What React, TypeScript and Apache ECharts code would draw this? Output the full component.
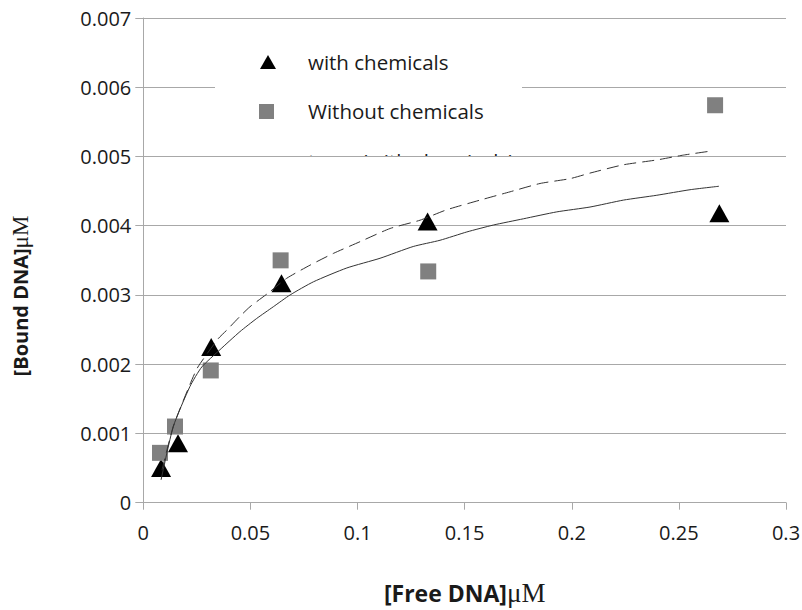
import React, { useEffect, useRef } from "react";
import * as echarts from "echarts";

// Measured points
const freeWith = [0.0083, 0.0162, 0.0317, 0.0645, 0.1327, 0.2689];
const boundWith = [0.0005, 0.00086, 0.00225, 0.00317, 0.00406, 0.00418];
const freeWithout = [0.0078, 0.0148, 0.0315, 0.0641, 0.133, 0.2669];
const boundWithout = [0.00072, 0.0011, 0.00191, 0.0035, 0.00334, 0.00574];

// Fitted curves
const fitWithX = [0.0083, 0.014, 0.0218, 0.0273, 0.0358, 0.0451, 0.0529, 0.0607, 0.0685, 0.0794, 0.095, 0.1105, 0.126, 0.1385, 0.151, 0.1634, 0.1774, 0.193, 0.2085, 0.2241, 0.2397, 0.2552, 0.2687];
const fitWithY = [0.00033, 0.0011, 0.00168, 0.00196, 0.00221, 0.00247, 0.00266, 0.00283, 0.003, 0.00319, 0.00339, 0.00353, 0.0037, 0.00379, 0.00391, 0.00401, 0.0041, 0.0042, 0.00427, 0.00437, 0.00444, 0.00452, 0.00457];
const fitWithoutX = [0.0087, 0.014, 0.0218, 0.0255, 0.035, 0.0389, 0.0451, 0.0498, 0.0584, 0.0669, 0.0778, 0.0887, 0.1012, 0.1152, 0.1292, 0.1416, 0.1572, 0.1712, 0.1852, 0.1992, 0.2085, 0.2241, 0.2397, 0.2521, 0.2654];
const fitWithoutY = [0.00047, 0.0011, 0.00171, 0.00196, 0.00237, 0.00249, 0.00269, 0.00283, 0.00303, 0.00324, 0.00343, 0.0036, 0.00377, 0.00396, 0.00408, 0.00423, 0.00437, 0.00449, 0.00461, 0.00468, 0.00476, 0.00488, 0.00495, 0.00502, 0.00508];

const legendNames = ["with chemicals", "Without chemicals", "trace (with chemicals)"];
const xTitle = "[Free DNA]";
const yTitle = "[Bound DNA]";
const unit = "μM";

const zip = (xs: number[], ys: number[]) => xs.map((x, i) => [x, ys[i]]);

export default function App() {
  const ref = useRef<HTMLDivElement>(null);
  useEffect(() => {
    document.body.style.margin = "0";
    const chart = echarts.init(ref.current!, undefined, { renderer: "svg" });
    const font = "Open Sans";
    const gridColor = "#a8a8a8";
    chart.setOption({
      animation: false,
      backgroundColor: "#ffffff",
      textStyle: { fontFamily: font },
      grid: { left: 143.3, right: 16, top: 18, bottom: 107.3, containLabel: false, outerBoundsMode: "none" },
      xAxis: {
        type: "value",
        min: 0,
        max: 0.3,
        interval: 0.05,
        axisLine: { show: true, lineStyle: { color: gridColor, width: 1 } },
        axisTick: { show: true, length: 7, lineStyle: { color: gridColor } },
        splitLine: { show: false },
        axisLabel: {
          margin: 20,
          fontSize: 20,
          color: "#1a1a1a",
          fontFamily: font,
          formatter: (v: number) => String(+v.toFixed(3)),
        },
        name: `{b|${xTitle}}{m|${unit}}`,
        nameLocation: "middle",
        nameGap: 78,
        nameTextStyle: {
          lineHeight: 24,
          rich: {
            b: { fontFamily: font, fontWeight: "bold", fontSize: 23, color: "#1a1a1a", lineHeight: 24 },
            m: { fontFamily: "Liberation Serif", fontSize: 27, color: "#1a1a1a", lineHeight: 24 },
          },
        },
      },
      yAxis: {
        type: "value",
        min: 0,
        max: 0.007,
        interval: 0.001,
        axisLine: { show: true, lineStyle: { color: gridColor, width: 1 } },
        axisTick: { show: true, length: 8, lineStyle: { color: gridColor } },
        splitLine: { show: true, lineStyle: { color: gridColor, width: 1 } },
        axisLabel: {
          margin: 12,
          fontSize: 20,
          color: "#1a1a1a",
          fontFamily: font,
          formatter: (v: number) => String(+v.toFixed(4)),
        },
      },
      series: [
        {
          name: legendNames[0],
          type: "scatter",
          data: zip(freeWith, boundWith),
          symbol: "triangle",
          symbolSize: [20, 18],
          itemStyle: { color: "#000000", opacity: 1 },
          z: 2,
        },
        {
          name: legendNames[1],
          type: "scatter",
          data: zip(freeWithout, boundWithout),
          symbol: "rect",
          symbolSize: 16,
          itemStyle: { color: "#808080", opacity: 1 },
          z: 2,
        },
        {
          name: legendNames[2],
          type: "line",
          data: zip(fitWithX, fitWithY),
          showSymbol: false,
          smooth: 0.2,
          lineStyle: { color: "#333333", width: 1 },
          z: 3,
        },
        {
          name: "trace (without chemicals)",
          type: "line",
          data: zip(fitWithoutX, fitWithoutY),
          showSymbol: false,
          smooth: 0.2,
          lineStyle: { color: "#333333", width: 1, type: [12, 6] },
          z: 3,
        },
      ],
      graphic: [
        { type: "rect", shape: { x: 215, y: 28, width: 307, height: 112 }, style: { fill: "#ffffff" }, z: 10 },
        { type: "polygon", shape: { points: [[268, 55], [276, 69], [260, 69]] }, style: { fill: "#000000" }, z: 11 },
        { type: "rect", shape: { x: 259, y: 104, width: 15, height: 15 }, style: { fill: "#808080" }, z: 11 },
        {
          type: "text",
          x: 308,
          y: 62,
          style: { text: legendNames[0], font: `20.5px "${font}"`, fill: "#1a1a1a", textAlign: "left", textVerticalAlign: "middle" },
          z: 11,
        },
        {
          type: "text",
          x: 308,
          y: 111,
          style: { text: legendNames[1], font: `20.5px "${font}"`, fill: "#1a1a1a", textAlign: "left", textVerticalAlign: "middle" },
          z: 11,
        },
        {
          type: "text",
          x: 308,
          y: 160.5,
          style: { text: legendNames[2], font: `20.5px "${font}"`, fill: "#1a1a1a", textAlign: "left", textVerticalAlign: "middle" },
          z: -2,
        },
        { type: "rect", shape: { x: 285, y: 156.5, width: 240, height: 28 }, style: { fill: "#ffffff" }, z: -1 },
        {
          type: "text",
          x: 20,
          y: 296,
          rotation: Math.PI / 2,
          style: {
            text: `{b|${yTitle}}{m|${unit}}`,
            textAlign: "center",
            textVerticalAlign: "middle",
            rich: {
              b: { fontFamily: font, fontWeight: "bold", fontSize: 20, fill: "#1a1a1a" },
              m: { fontFamily: "Liberation Serif", fontSize: 23, fill: "#1a1a1a" },
            },
          },
        },
      ],
    });
    return () => chart.dispose();
  }, []);
  return <div ref={ref} style={{ width: 802, height: 610 }} />;
}
